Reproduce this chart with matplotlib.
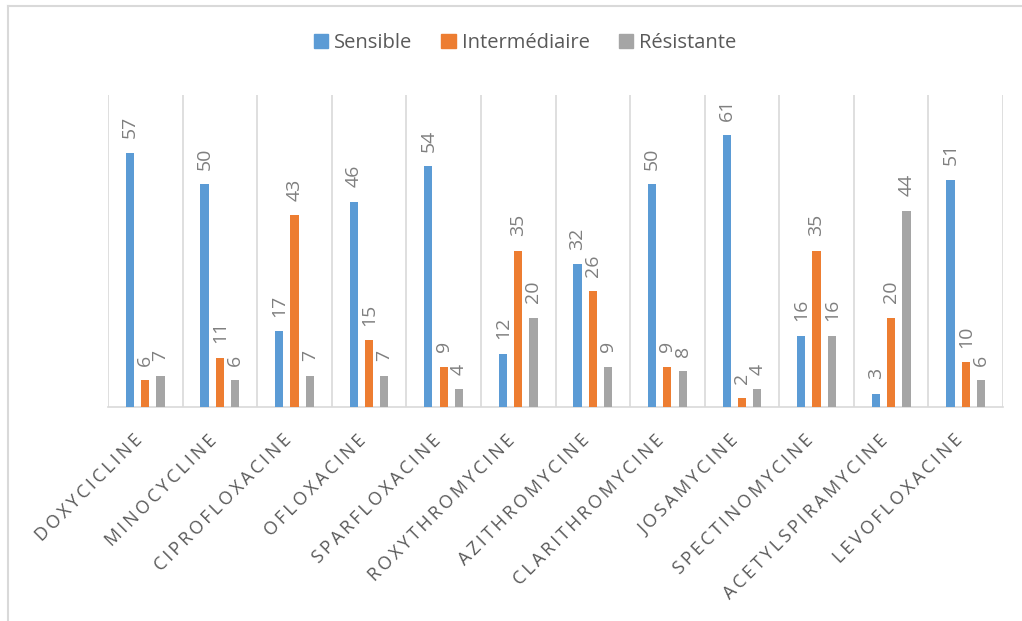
import numpy as np
import matplotlib.pyplot as plt
from matplotlib.lines import Line2D
from matplotlib.patches import Patch
from matplotlib.transforms import ScaledTranslation

# données
antibiotiques = ["DOXYCICLINE", "MINOCYCLINE", "CIPROFLOXACINE", "OFLOXACINE",
                 "SPARFLOXACINE", "ROXYTHROMYCINE", "AZITHROMYCINE", "CLARITHROMYCINE",
                 "JOSAMYCINE", "SPECTINOMYCINE", "ACETYLSPIRAMYCINE", "LEVOFLOXACINE"]
sensible = [57, 50, 17, 46, 54, 12, 32, 50, 61, 16, 3, 51]
intermediaire = [6, 11, 43, 15, 9, 35, 26, 9, 2, 35, 20, 10]
resistante = [7, 6, 7, 7, 4, 20, 9, 8, 4, 16, 44, 6]

series = [("Sensible", sensible, "#5B9BD5"),
          ("Intermédiaire", intermediaire, "#ED7D31"),
          ("Résistante", resistante, "#A5A5A5")]

fam = ["Open Sans", "DejaVu Sans"]

fig = plt.figure(figsize=(10.22, 6.21), dpi=100)
ax = fig.add_axes([108 / 1022, 1 - 407 / 621, 895 / 1022, 312 / 621])

x = np.arange(len(antibiotiques))
step = 0.205
width = 0.11
for i, (nom, vals, col) in enumerate(series):
    pos = x + (i - 1) * step
    bars = ax.bar(pos, vals, width, color=col, zorder=3)
    for b, v in zip(bars, vals):
        ax.annotate(str(v), (b.get_x() + b.get_width() / 2, v),
                    xytext=(0, 10.5), textcoords="offset points",
                    rotation=90, ha="center", va="bottom",
                    fontsize=14, color="#7F7F7F", family=fam)

ax.set_xlim(-0.5, len(antibiotiques) - 0.5)
ax.set_ylim(0, 70)
ax.set_yticks([])

# séparateurs verticaux entre catégories
ax.set_xticks(np.arange(len(antibiotiques) + 1) - 0.5, minor=True)
ax.grid(True, which="minor", axis="x", color="#D9D9D9", linewidth=1.2, zorder=0)
ax.tick_params(axis="x", which="both", length=0)

espaces = ["\u2009".join(n) for n in antibiotiques]
ax.set_xticks(x)
ax.set_xticklabels(espaces, rotation=45, ha="right", va="center",
                   rotation_mode="anchor", fontsize=13, color="#595959",
                   family=fam)
ax.tick_params(axis="x", which="major", pad=22)
decal = ScaledTranslation(-6 / 100, 0, fig.dpi_scale_trans)
for lbl in ax.get_xticklabels():
    lbl.set_transform(lbl.get_transform() + decal)

for s in ["top", "right", "left"]:
    ax.spines[s].set_visible(False)
ax.spines["bottom"].set_color("#D9D9D9")
ax.spines["bottom"].set_linewidth(1.2)

handles = [Patch(color=c) for _, _, c in series]
fig.legend(handles, [n for n, _, _ in series], loc="center",
           bbox_to_anchor=(525 / 1022, 1 - 43 / 621), ncol=3, frameon=False,
           prop={"family": fam, "size": 14.5}, labelcolor="#595959",
           handlelength=0.7, handleheight=0.7, handletextpad=0.3,
           columnspacing=1.45)

# cadre du graphique
fig.add_artist(Line2D([7.5 / 1022, 1], [1 - 5.5 / 621] * 2,
                      transform=fig.transFigure, color="#D9D9D9", linewidth=1.5))
fig.add_artist(Line2D([7.5 / 1022] * 2, [0, 1 - 5.5 / 621],
                      transform=fig.transFigure, color="#D9D9D9", linewidth=1.5))

fig.savefig("out.png", dpi=100)
